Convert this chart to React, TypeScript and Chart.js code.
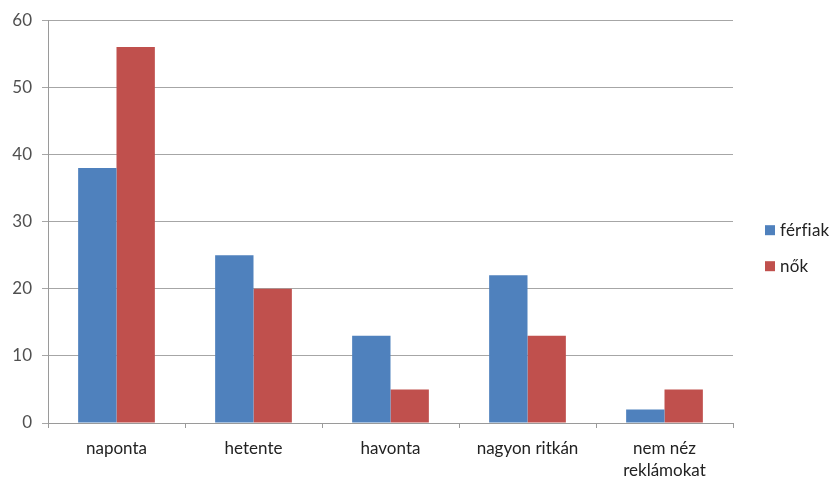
import React, { useEffect, useRef } from "react";
import { Chart, registerables } from "chart.js";

Chart.register(...registerables);

const categories: (string | string[])[] = [
  "naponta",
  "hetente",
  "havonta",
  "nagyon ritkán",
  ["nem néz", "reklámokat"],
];
const ferfiak = [38, 25, 13, 22, 2];
const nok = [56, 20, 5, 13, 5];
const seriesNames = ["férfiak", "nők"];
const seriesColors = ["#4f81bd", "#c0504d"];

const FONT = "Lato, 'Open Sans', sans-serif";

// Vertical legend drawn to the right of the plot area
const sideLegend = {
  id: "sideLegend",
  afterDraw(chart: Chart) {
    const { ctx, chartArea } = chart;
    const x = chartArea.right + 32;
    const yStart = chartArea.top + 210;
    const gap = 36;
    ctx.save();
    ctx.font = `17px ${FONT}`;
    (ctx as any).letterSpacing = "0.2px";
    ctx.textBaseline = "middle";
    chart.data.datasets.forEach((ds, i) => {
      const y = yStart + i * gap;
      ctx.fillStyle = ds.backgroundColor as string;
      ctx.fillRect(x, y - 5, 10, 10);
      ctx.fillStyle = "#222";
      ctx.fillText(ds.label as string, x + 15, y);
    });
    ctx.restore();
  },
};

export default function App() {
  const ref = useRef<HTMLCanvasElement>(null);

  useEffect(() => {
    document.body.style.margin = "0";
    const chart = new Chart(ref.current!, {
      type: "bar",
      data: {
        labels: categories,
        datasets: [
          { label: seriesNames[0], data: ferfiak, backgroundColor: seriesColors[0] },
          { label: seriesNames[1], data: nok, backgroundColor: seriesColors[1] },
        ],
      },
      options: {
        animation: false,
        responsive: false,
        layout: { padding: { top: 17, right: 99, left: 0, bottom: 0 } },
        datasets: {
          bar: { categoryPercentage: 0.56, barPercentage: 1.0 },
        },
        plugins: {
          legend: { display: false },
          tooltip: { enabled: false },
        },
        scales: {
          x: {
            afterFit(scale: any) {
              scale.height = 56;
            },
            grid: {
              offset: true,
              drawOnChartArea: false,
              drawTicks: true,
              tickLength: 5,
              color: "#9a9a9a",
            },
            border: { color: "#9a9a9a" },
            ticks: {
              color: "#222",
              font: { family: FONT, size: 17, lineHeight: 1.3 },
              padding: 9,
              maxRotation: 0,
              autoSkip: false,
            },
          },
          y: {
            min: 0,
            max: 60,
            afterFit(scale: any) {
              scale.width = 48;
            },
            grid: {
              color: "#a6a6a6",
              drawTicks: true,
              tickLength: 6,
            },
            border: { color: "#9a9a9a" },
            ticks: {
              stepSize: 10,
              color: "#505050",
              font: { family: FONT, size: 17 },
              padding: 10,
            },
          },
        },
      },
      plugins: [sideLegend],
    });
    return () => chart.destroy();
  }, []);

  return (
    <div style={{ position: "absolute", left: 0, top: 0, width: 832, height: 479, background: "#fff" }}>
      <canvas ref={ref} width={832} height={479} />
    </div>
  );
}
